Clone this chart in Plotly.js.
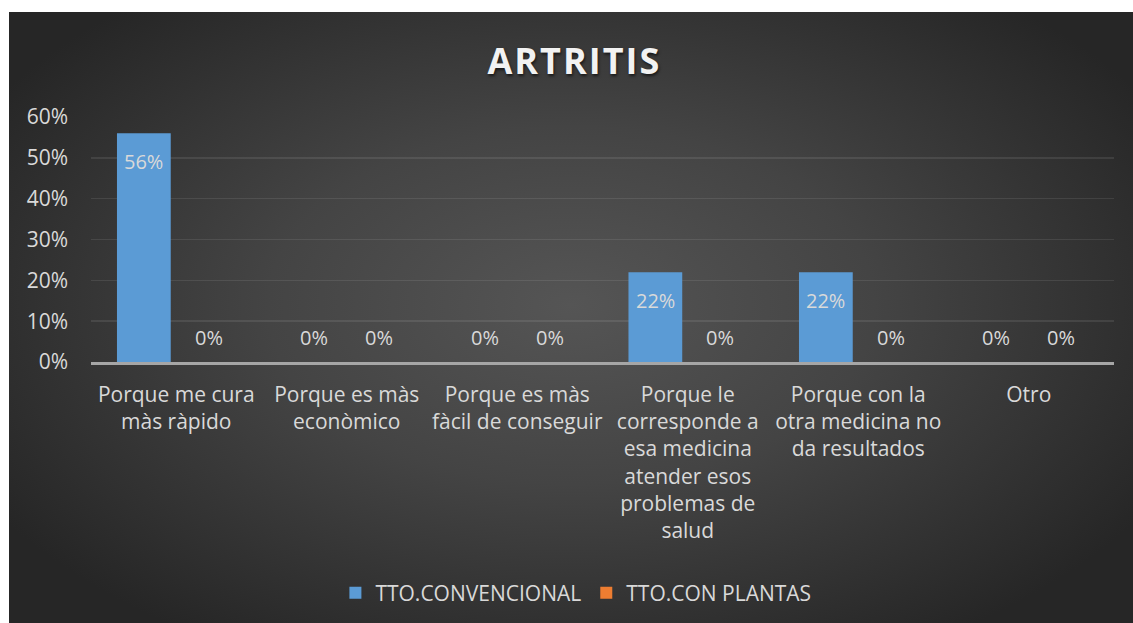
<!DOCTYPE html>
<html>
<head>
<meta charset="utf-8">
<script src="https://cdn.plot.ly/plotly-3.0.1.min.js"></script>
<style>
  html, body { margin: 0; padding: 0; background: #ffffff; width: 1133px; height: 623px; overflow: hidden; }
  #panel {
    position: absolute; left: 9px; top: 12px; width: 1124px; height: 611px;
    background: radial-gradient(ellipse 60% 65% at 50% 48%, #555555 0%, #444444 45%, #262626 100%);
  }
  #chart { width: 1124px; height: 611px; }
  .gtitle { letter-spacing: 2px; }
</style>
</head>
<body>
<div id="panel"><div id="chart"></div></div>
<script>
const categories = [
  "Porque me cura<br>màs ràpido",
  "Porque es màs<br>econòmico",
  "Porque es màs<br>fàcil de conseguir",
  "Porque le<br>corresponde a<br>esa medicina<br>atender esos<br>problemas de<br>salud",
  "Porque con la<br>otra medicina no<br>da resultados",
  "Otro"
];
const convencional = [0.56, 0, 0, 0.22, 0.22, 0];
const conPlantas = [0, 0, 0, 0, 0, 0];
const seriesNames = ["TTO.CONVENCIONAL", "TTO.CON PLANTAS"];
const yTicks = [0, 0.1, 0.2, 0.3, 0.4, 0.5, 0.6];

const textColor = "#d9d9d9";
const fontFamily = "'Open Sans', 'Noto Sans', sans-serif";

const traces = [
  { type: "bar", name: seriesNames[0], x: categories, y: convencional,
    marker: { color: "#5b9bd5" }, hoverinfo: "skip" },
  { type: "bar", name: seriesNames[1], x: categories, y: conPlantas,
    marker: { color: "#ed7d31" }, hoverinfo: "skip" }
];

// data labels built from the series arrays
const annotations = [];
const offsets = [-0.19, 0.19];
[convencional, conPlantas].forEach((vals, s) => {
  vals.forEach((v, i) => {
    annotations.push({
      xref: "x", yref: "y", x: i + offsets[s], y: v,
      text: Math.round(v * 100) + "%",
      showarrow: false,
      yanchor: "middle",
      yshift: v > 0 ? -28 : 25,
      font: { family: fontFamily, size: 20, color: textColor }
    });
  });
});

const layout = {
  width: 1124, height: 611,
  paper_bgcolor: "rgba(0,0,0,0)",
  plot_bgcolor: "rgba(0,0,0,0)",
  margin: { l: 82, r: 19, t: 105, b: 260 },
  title: {
    text: "ARTRITIS",
    x: 0.503, xanchor: "center", y: 0.919, yanchor: "middle",
    font: { family: fontFamily, size: 36, color: "#f2f2f2", weight: 700,
            shadow: "1px 2px 3px rgba(0,0,0,0.6)" }
  },
  barmode: "group",
  bargap: 0.24,
  bargroupgap: 0.17,
  showlegend: true,
  legend: {
    orientation: "h", x: 0.474, xanchor: "center", y: -0.935, yanchor: "middle",
    font: { family: fontFamily, size: 21, color: textColor },
    bgcolor: "rgba(0,0,0,0)", itemwidth: 30
  },
  xaxis: {
    type: "category",
    tickfont: { family: fontFamily, size: 21, color: textColor },
    showline: true, linecolor: "#a6a6a6", linewidth: 2.5,
    ticks: "", showgrid: false, zeroline: false,
    ticklabelstandoff: 12, fixedrange: true, tickangle: 0
  },
  yaxis: {
    range: [0, 0.6],
    tickvals: yTicks,
    tickformat: ".0%",
    tickfont: { family: fontFamily, size: 21, color: textColor },
    showgrid: true, gridcolor: "rgba(255,255,255,0.09)", gridwidth: 1.5,
    zeroline: false, showline: false, ticks: "",
    ticklabelstandoff: 22, fixedrange: true
  },
  annotations: annotations
};

Plotly.newPlot("chart", traces, layout, { displayModeBar: false, staticPlot: true });
</script>
</body>
</html>
